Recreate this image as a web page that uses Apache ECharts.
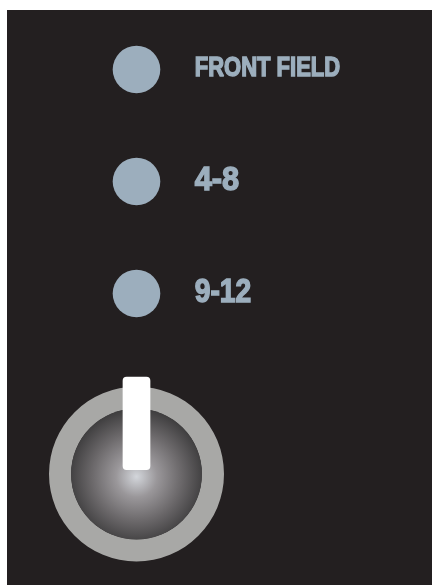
<!DOCTYPE html>
<html>
<head>
<meta charset="utf-8">
<script src="https://cdn.jsdelivr.net/npm/echarts@6/dist/echarts.min.js"></script>
<style>
html,body{margin:0;padding:0;background:#ffffff;}
#chart{width:432px;height:585px;}
</style>
</head>
<body>
<div id="chart"></div>
<script>
// ---- data ----
const options = ['FRONT FIELD', '4-8', '9-12'];   // selector positions (indicator dots + labels)
const selectorColumn = ['selector'];              // single x category
const knobAngle = [0];                            // knob rotation in degrees (0 = pointing straight up)

// ---- styles ----
const dotColor = '#9caebd';
const labelColor = '#9caebd';
const panelColor = '#231f20';
const labelFont = { 'FRONT FIELD': 27.5, '4-8': 34, '9-12': 34 };
const labelScaleX = { 'FRONT FIELD': 0.80, '4-8': 0.906, '9-12': 0.83 };

const chart = echarts.init(document.getElementById('chart'), null, { renderer: 'canvas' });

const selectorData = options.map((name) => [selectorColumn[0], name]);

chart.setOption({
  backgroundColor: '#ffffff',
  animation: false,
  graphic: [{
    type: 'rect',
    z: -1,
    shape: { x: 7, y: 10, width: 425, height: 575 },
    style: { fill: panelColor }
  }],
  grid: { left: 100, width: 73, top: 13.5, height: 336 },
  xAxis: { type: 'category', data: selectorColumn, show: false },
  yAxis: { type: 'category', data: options, inverse: true, show: false },
  series: [
    {
      type: 'custom',
      data: selectorData,
      renderItem: function (params, api) {
        const p = api.coord([api.value(0), api.value(1)]);
        const name = options[params.dataIndex];
        const fs = labelFont[name];
        return {
          type: 'group',
          children: [
            { type: 'circle', shape: { cx: p[0], cy: p[1], r: 23.8 }, style: { fill: dotColor } },
            {
              type: 'text',
              x: p[0] + 58.2,
              y: p[1] - 1,
              originX: 0, originY: 0,
              scaleX: labelScaleX[name],
              style: {
                text: name,
                fill: labelColor,
                stroke: labelColor,
                lineWidth: 1.5,
                font: 'bold ' + fs + 'px "Liberation Sans", Arial, sans-serif',
                textAlign: 'left',
                verticalAlign: 'middle'
              }
            }
          ]
        };
      }
    },
    {
      type: 'gauge',
      center: [136.5, 474],
      radius: 87.5,
      startAngle: 90,
      endAngle: -270,
      min: 0,
      max: 360,
      splitNumber: 4,
      axisLine: { show: true, roundCap: false, lineStyle: { width: 22.2, color: [[1, '#a8a8a6']] } },
      axisTick: { show: false },
      splitLine: { show: false },
      axisLabel: { show: false },
      progress: { show: false },
      title: { show: false },
      detail: { show: false },
      anchor: {
        show: true,
        showAbove: false,
        size: 131,
        icon: 'circle',
        itemStyle: {
          color: {
            type: 'radial', x: 0.5, y: 0.52, r: 0.52,
            colorStops: [
              { offset: 0, color: '#d3d6db' },
              { offset: 0.3, color: '#9a979a' },
              { offset: 0.65, color: '#6c696b' },
              { offset: 1, color: '#3e3d3e' }
            ]
          }
        }
      },
      pointer: {
        show: true,
        icon: 'path://M4,0 H24 A4,4 0 0 1 28,4 V89 A4,4 0 0 1 24,93 H4 A4,4 0 0 1 0,89 V4 A4,4 0 0 1 4,0 Z',
        width: 27.7,
        length: 93.3,
        offsetCenter: [0, -4],
        itemStyle: { color: '#ffffff' }
      },
      data: knobAngle.map((v) => ({ value: v }))
    }
  ]
});
</script>
</body>
</html>
